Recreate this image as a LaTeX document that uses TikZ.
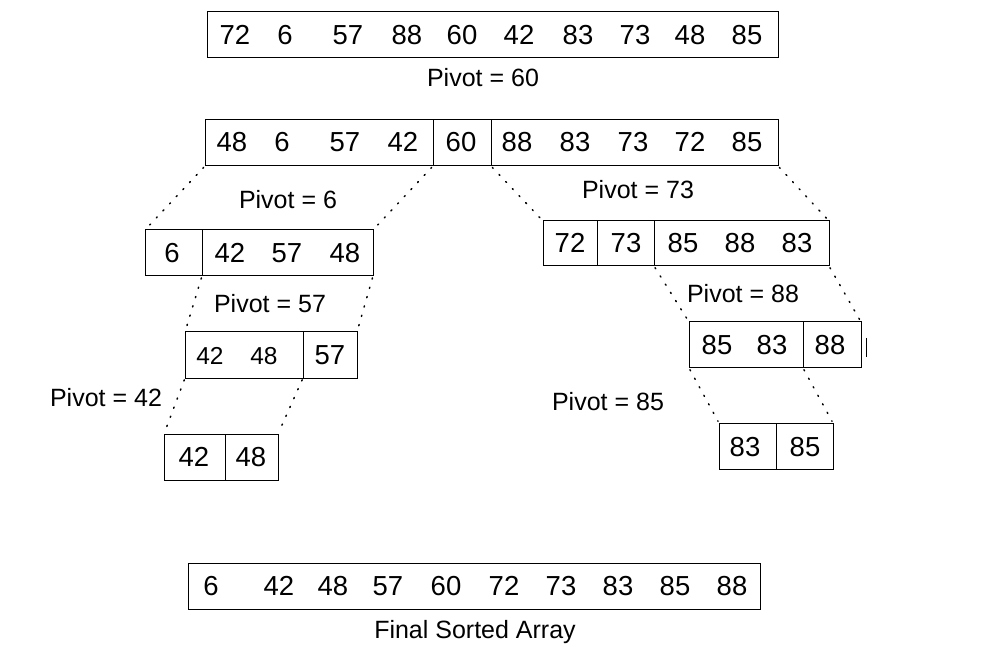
\documentclass[tikz,border=0pt]{standalone}
\usepackage{fontspec}
\setmainfont{Liberation Sans}
\begin{document}
\begin{tikzpicture}[x=1pt,y=-1pt,
  seg/.style={draw=black,line width=1pt,inner sep=0pt,outer sep=0pt,anchor=north west,minimum height=46pt},
  num/.style={inner sep=0pt,font=\fontsize{27.5}{30}\selectfont},
  small/.style={inner sep=0pt,font=\fontsize{24.5}{28}\selectfont},
  piv/.style={inner sep=0pt,font=\fontsize{25}{28}\selectfont},
  dots/.style={line width=1.5pt,dash pattern=on 1.2pt off 8.5pt,line cap=round,shorten <=2pt,shorten >=2pt}]
\useasboundingbox (0,0) rectangle (1007,668);
% top
\node[seg,minimum width=571pt] (A) at (207,12) {};
\foreach \x/\v [count=\i] in {235/72,285/6,348/57,407/88,462/60,519/42,578/83,635/73,690/48,747/85}
  \node[num] (a\i) at (\x,35) {\v};
\node[piv] (p60) at (483,78) {Pivot = 60};
% row 2
\node[seg,minimum width=228pt] (B1) at (205,120) {};
\node[seg,minimum width=58pt] (B2) at (433,120) {};
\node[seg,minimum width=287pt] (B3) at (491,120) {};
\foreach \x/\v [count=\i] in {232/48,282/6,345/57,403/42,461/60,517/88,575/83,633/73,690/72,747/85}
  \node[num] (b\i) at (\x,142) {\v};
\node[piv] (p6) at (288,200) {Pivot = 6};
\node[piv] (p73) at (638,190) {Pivot = 73};
% row 3 left
\node[seg,minimum width=57pt] (C1) at (145,230) {};
\node[seg,minimum width=171pt] (C2) at (202,230) {};
\foreach \x/\v [count=\i] in {172/6,230/42,287/57,345/48}
  \node[num] (c\i) at (\x,253) {\v};
% row 3 right
\node[seg,minimum width=54pt,minimum height=45pt] (D1) at (543,221) {};
\node[seg,minimum width=57pt,minimum height=45pt] (D2) at (597,221) {};
\node[seg,minimum width=175pt,minimum height=45pt] (D3) at (654,221) {};
\foreach \x/\v [count=\i] in {570/72,626/73,683/85,740/88,797/83}
  \node[num] (d\i) at (\x,243) {\v};
% row 4 left
\node[piv] (p57) at (270,304) {Pivot = 57};
\node[seg,minimum width=118pt] (E1) at (185,332) {};
\node[seg,minimum width=54pt] (E2) at (303,332) {};
\node[small] (e1) at (210,356) {42};
\node[small] (e2) at (264,356) {48};
\node[num] (e3) at (330,355) {57};
\node[piv] (p42) at (106,398) {Pivot = 42};
% row 4 right
\node[piv] (p88) at (743,294) {Pivot = 88};
\node[seg,minimum width=114pt] (F1) at (689,322) {};
\node[seg,minimum width=58pt] (F2) at (803,322) {};
\foreach \x/\v [count=\i] in {717/85,772/83,830/88}
  \node[num] (f\i) at (\x,345) {\v};
\draw[line width=0.8pt] (866,338) -- (866,357);
\node[piv] (p85) at (608,402) {Pivot = 85};
% row 5 left
\node[seg,minimum width=61pt] (G1) at (164,434) {};
\node[seg,minimum width=53pt] (G2) at (225,434) {};
\node[num] (g1) at (194,457) {42};
\node[num] (g2) at (251,457) {48};
% row 5 right
\node[seg,minimum width=57pt] (H1) at (719,423) {};
\node[seg,minimum width=57pt] (H2) at (776,423) {};
\node[num] (h1) at (745,447) {83};
\node[num] (h2) at (805,447) {85};
% bottom
\node[seg,minimum width=572pt] (Z) at (188,563) {};
\foreach \x/\v [count=\i] in {211/6,279/42,333/48,388/57,446/60,504/72,561/73,618/83,675/85,732/88}
  \node[num] (z\i) at (\x,586) {\v};
\node[piv] (fin) at (475,632) {Final Sorted Array};
% connectors
\draw[dots] (B1.south west) -- (C1.north west);
\draw[dots] (B1.south east) -- (C2.north east);
\draw[dots] (B3.south west) -- (D1.north west);
\draw[dots] (B3.south east) -- (D3.north east);
\draw[dots] (C2.south west) -- (E1.north west);
\draw[dots] (C2.south east) -- (E2.north east);
\draw[dots] (D3.south west) -- (F1.north west);
\draw[dots] (D3.south east) -- (F2.north east);
\draw[dots] (E1.south west) -- (G1.north west);
\draw[dots] (E1.south east) -- (G2.north east);
\draw[dots] (F1.south west) -- (H1.north west);
\draw[dots] (F1.south east) -- (H2.north east);
\end{tikzpicture}
\end{document}
